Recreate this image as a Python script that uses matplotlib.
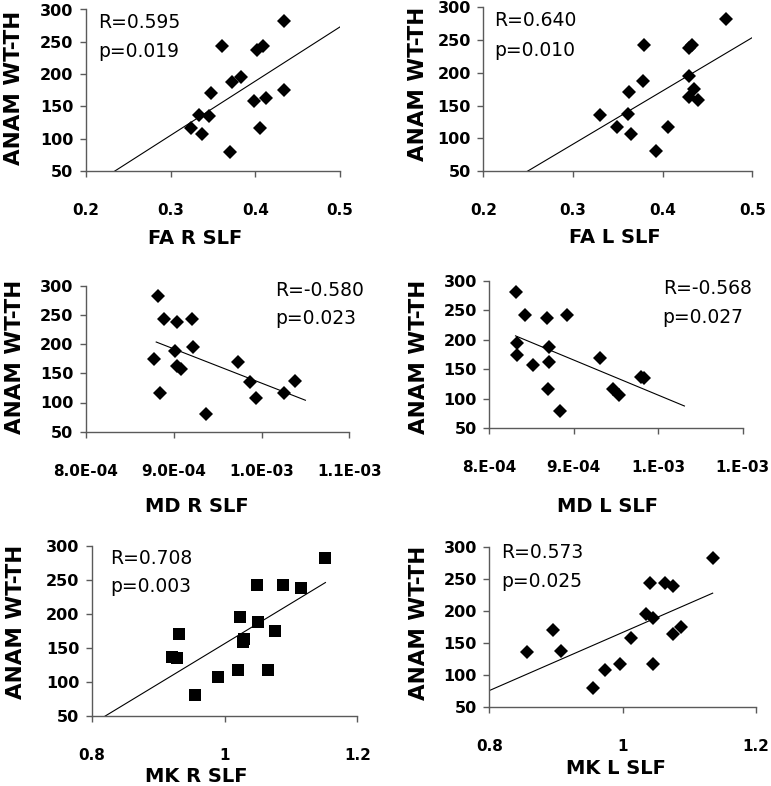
import numpy as np
import matplotlib
matplotlib.use("Agg")
import matplotlib.pyplot as plt

plt.rcParams["font.family"] = ["DejaVu Sans"]

# ANAM WT-TH scores (shared by all panels)
anam = [282, 243, 243, 238, 195, 188, 175, 170, 163, 158, 137, 135, 117, 117, 107, 80]

# diffusion metrics, same subject order as anam
fa_r = [0.434, 0.361, 0.409, 0.402, 0.383, 0.372, 0.434, 0.348, 0.413, 0.398, 0.333, 0.345, 0.324, 0.405, 0.337, 0.370]
fa_l = [0.471, 0.379, 0.433, 0.429, 0.429, 0.378, 0.435, 0.362, 0.429, 0.439, 0.361, 0.330, 0.349, 0.406, 0.365, 0.393]
md_r = [8.82e-4, 8.89e-4, 9.21e-4, 9.04e-4, 9.22e-4, 9.01e-4, 8.78e-4, 9.73e-4, 9.04e-4, 9.08e-4, 10.38e-4, 9.87e-4, 8.84e-4, 10.26e-4, 9.94e-4, 9.37e-4]
md_l = [8.32e-4, 8.42e-4, 8.92e-4, 8.68e-4, 8.33e-4, 8.71e-4, 8.33e-4, 9.31e-4, 8.71e-4, 8.52e-4, 9.80e-4, 9.83e-4, 8.69e-4, 9.47e-4, 9.53e-4, 8.84e-4]
mk_r = [1.152, 1.049, 1.088, 1.115, 1.024, 1.051, 1.076, 0.931, 1.030, 1.028, 0.921, 0.929, 1.020, 1.065, 0.990, 0.955]
mk_l = [1.135, 1.041, 1.064, 1.075, 1.035, 1.046, 1.088, 0.895, 1.076, 1.012, 0.907, 0.856, 0.996, 1.046, 0.973, 0.955]

xlabels = ["FA R SLF", "FA L SLF", "MD R SLF", "MD L SLF", "MK R SLF", "MK L SLF"]
r_text = ["R=0.595", "R=0.640", "R=-0.580", "R=-0.568", "R=0.708", "R=0.573"]
p_text = ["p=0.019", "p=0.010", "p=0.023", "p=0.027", "p=0.003", "p=0.025"]

xticks_fa = [0.2, 0.3, 0.4, 0.5]
xticks_md = [8e-4, 9e-4, 1e-3, 1.1e-3]
xticks_mk = [0.8, 1.0, 1.2]
ticklab_fa = ["0.2", "0.3", "0.4", "0.5"]
ticklab_md_r = ["8.0E-04", "9.0E-04", "1.0E-03", "1.1E-03"]
ticklab_md_l = ["8.E-04", "9.E-04", "1.E-03", "1.E-03"]
ticklab_mk = ["0.8", "1", "1.2"]
yticks = [50, 100, 150, 200, 250, 300]

W, H = 771, 786
fig = plt.figure(figsize=(W / 100, H / 100), dpi=100)
fig.patch.set_facecolor("white")

# panel boxes in pixels: left, top, right, bottom
boxes = [(86, 9.5, 340, 171), (483.3, 7.3, 752.3, 171),
         (86, 285.7, 349.3, 431.7), (489.3, 281, 742.7, 428.3),
         (91.7, 546, 357.3, 715.7), (489.3, 546.7, 756, 706.7)]

panels = [
    dict(x=fa_r, ticks=xticks_fa, labs=ticklab_fa, fit=(0.2, 0.5), m="D", ms=7.5,
         txy=(0.047, 0.92, 0.737), xl=(0.428, -0.359), yl=(-0.245, 0.514)),
    dict(x=fa_l, ticks=xticks_fa, labs=ticklab_fa, fit=(0.2, 0.5), m="D", ms=7.5,
         txy=(0.041, 0.922, 0.739), xl=(0.49, -0.348), yl=(-0.205, 0.53)),
    dict(x=md_r, ticks=xticks_md, labs=ticklab_md_r, fit=(8.8e-4, 1.05e-3), m="D", ms=7.5,
         txy=(0.718, 0.97, 0.777), xl=(0.42, -0.447), yl=(-0.23, 0.514)),
    dict(x=md_l, ticks=xticks_md, labs=ticklab_md_l, fit=(8.31e-4, 1.031e-3), m="D", ms=7.5,
         txy=(0.684, 0.946, 0.751), xl=(0.467, -0.466), yl=(-0.238, 0.486)),
    dict(x=mk_r, ticks=xticks_mk, labs=ticklab_mk, fit=(0.8, max(mk_r)), m="s", ms=8,
         txy=(0.069, 0.927, 0.76), xl=(0.395, -0.304), yl=(-0.248, 0.554)),
    dict(x=mk_l, ticks=xticks_mk, labs=ticklab_mk, fit=(0.8, max(mk_l)), m="D", ms=7.5,
         txy=(0.043, 0.9625, 0.78), xl=(0.475, -0.33), yl=(-0.226, 0.527)),
]

axis_col = "#5a5a5a"

for i, (pn, (l, t, r, b)) in enumerate(zip(panels, boxes)):
    ax = fig.add_axes([l / W, 1 - b / H, (r - l) / W, (b - t) / H])
    x = np.array(pn["x"])
    y = np.array(anam)
    ax.plot(x, y, linestyle="none", marker=pn["m"], markersize=pn["ms"],
            color="black", markeredgewidth=0)
    # least squares trend line
    k, c = np.polyfit(x, y, 1)
    xs = np.array(pn["fit"])
    ax.plot(xs, k * xs + c, color="black", linewidth=0.8)

    ax.set_xlim(pn["ticks"][0], pn["ticks"][-1])
    ax.set_ylim(50, 300)
    ax.set_xticks(pn["ticks"])
    ax.set_xticklabels(pn["labs"])
    ax.set_yticks(yticks)

    for s in ["top", "right"]:
        ax.spines[s].set_visible(False)
    for s in ["left", "bottom"]:
        ax.spines[s].set_color(axis_col)
        ax.spines[s].set_linewidth(1.0)
    ax.tick_params(axis="both", direction="out", length=4, width=1, color=axis_col)
    ax.tick_params(axis="x", pad=19, labelsize=11)
    ax.tick_params(axis="y", pad=5, labelsize=11.5)
    for lab in ax.get_xticklabels() + ax.get_yticklabels():
        lab.set_fontweight("bold")

    ax.set_xlabel(xlabels[i], fontsize=14, fontweight="bold")
    ax.xaxis.set_label_coords(*pn["xl"])
    ax.set_ylabel("ANAM WT-TH", fontsize=15.5, fontweight="bold")
    ax.yaxis.set_label_coords(*pn["yl"])

    tx, ty1, ty2 = pn["txy"]
    ax.text(tx, ty1, r_text[i], transform=ax.transAxes, fontsize=13.5, va="center", ha="left")
    ax.text(tx, ty2, p_text[i], transform=ax.transAxes, fontsize=13.5, va="center", ha="left")

fig.savefig("out.png", dpi=100, facecolor="white")
